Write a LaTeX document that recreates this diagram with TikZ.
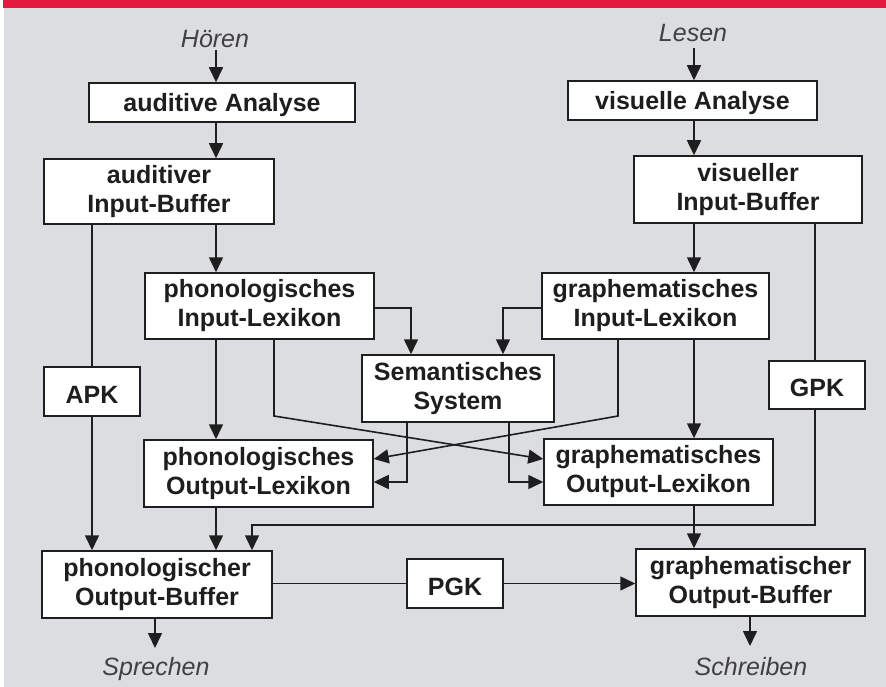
\documentclass[tikz,border=0pt]{standalone}
\usepackage{fontspec}
\setmainfont{Liberation Sans}
\usetikzlibrary{arrows.meta}
\definecolor{bg}{HTML}{DCDDE0}
\definecolor{redbar}{HTML}{E31B3D}
\definecolor{ink}{HTML}{1E1E1E}
\begin{document}
\begin{tikzpicture}[x=1pt,y=-1pt,
  box/.style={draw=ink, line width=1.5pt, fill=white, inner sep=0pt, align=center,
    font=\fontsize{25}{29}\selectfont\bfseries, text=ink,
    execute at begin node={\rule{0pt}{24pt}}},
  lbl/.style={inner sep=0pt, font=\fontsize{25}{29}\selectfont\itshape, text=ink!85},
  conn/.style={draw=ink, line width=1.6pt},
  arr/.style={conn, -{Triangle[length=15pt,width=14pt]}}]
\useasboundingbox (0,0) rectangle (886,687);
\fill[white] (0,0) rectangle (886,687);
\fill[bg] (4,8) rectangle (886,687);
\fill[redbar] (3,0) rectangle (886,8);

% inputs / outputs
\node[lbl] (hoeren) at (215,39) {Hören};
\node[lbl] (lesen) at (693,33) {Lesen};
\node[lbl] (sprechen) at (156,669) {Sprechen};
\node[lbl] (schreiben) at (751,667) {Schreiben};

% boxes
\node[box, minimum width=266pt, minimum height=39pt] (audA) at (222,102.5) {auditive Analyse};
\node[box, minimum width=230pt, minimum height=65pt] (audIB) at (159,191.5) {auditiver\\Input-Buffer};
\node[box, minimum width=249pt, minimum height=39pt] (visA) at (692.5,100.5) {visuelle Analyse};
\node[box, minimum width=228pt, minimum height=67pt] (visIB) at (748,189.5) {visueller\\Input-Buffer};
\node[box, minimum width=229pt, minimum height=66pt] (phIL) at (259.5,306) {phonologisches\\Input-Lexikon};
\node[box, minimum width=227pt, minimum height=66pt] (grIL) at (655.5,306) {graphematisches\\Input-Lexikon};
\node[box, minimum width=192pt, minimum height=67pt] (semS) at (458,388.5) {Semantisches\\System};
\node[box, minimum width=96pt, minimum height=49pt] (apk) at (92,391.5) {APK};
\node[box, minimum width=96pt, minimum height=48pt] (gpk) at (817,385) {GPK};
\node[box, minimum width=229pt, minimum height=67pt] (phOL) at (258.5,473.5) {phonologisches\\Output-Lexikon};
\node[box, minimum width=229pt, minimum height=66pt] (grOL) at (658.5,472) {graphematisches\\Output-Lexikon};
\node[box, minimum width=230pt, minimum height=67pt] (phOB) at (157,584.5) {phonologischer\\Output-Buffer};
\node[box, minimum width=96pt, minimum height=49pt] (pgk) at (455,583.5) {PGK};
\node[box, minimum width=229pt, minimum height=67pt] (grOB) at (750.5,582.5) {graphematischer\\Output-Buffer};

% helper coordinates
\coordinate (xa) at (216,0);
\coordinate (xp) at (92,0);
\coordinate (xs1) at (411,0);
\coordinate (xs2) at (503,0);
\coordinate (xd1) at (274,0);
\coordinate (xd2) at (618,0);
\coordinate (xo1) at (407,0);
\coordinate (xo2) at (509,0);
\coordinate (xv) at (694,0);
\coordinate (xg) at (815,0);
\coordinate (xq) at (252,0);
\coordinate (xsp) at (155,0);
\coordinate (xsc) at (750,0);
\coordinate (ys) at (0,308);
\coordinate (yd) at (0,416);
\coordinate (ydt) at (0,459);
\coordinate (yo) at (0,482);
\coordinate (yg) at (0,525);
\coordinate (hs) at (216,50);
\coordinate (ls) at (694,48);
\coordinate (spe) at (155,648);
\coordinate (sce) at (750,646);

% auditory column
\draw[arr] (hs) -- (hs |- audA.north);
\draw[arr] (audA.south -| xa) -- (audIB.north -| xa);
\draw[arr] (audIB.south -| xa) -- (phIL.north -| xa);
\draw[conn] (audIB.south -| xp) -- (apk.north);
\draw[arr] (apk.south) -- (phOB.north -| xp);
\draw[arr] (phIL.south -| xa) -- (phOL.north -| xa);
\draw[arr] (phOL.south -| xa) -- (phOB.north -| xa);

% visual column
\draw[arr] (ls) -- (ls |- visA.north);
\draw[arr] (visA.south -| xv) -- (visIB.north -| xv);
\draw[arr] (visIB.south -| xv) -- (grIL.north -| xv);
\draw[conn] (visIB.south -| xg) -- (gpk.north -| xg);
\draw[arr] (gpk.south -| xg) -- (xg |- yg) -- (xq |- yg) -- (phOB.north -| xq);
\draw[arr] (grIL.south -| xv) -- (grOL.north -| xv);
\draw[arr] (grOL.south -| xv) -- (grOB.north -| xv);

% semantic system
\draw[arr] (phIL.east |- ys) -- (xs1 |- ys) -- (semS.north -| xs1);
\draw[arr] (grIL.west |- ys) -- (xs2 |- ys) -- (semS.north -| xs2);
\draw[arr] (semS.south -| xo1) -- (xo1 |- yo) -- (phOL.east |- yo);
\draw[arr] (semS.south -| xo2) -- (xo2 |- yo) -- (grOL.west |- yo);

% crossing lexical routes
\draw[arr] (phIL.south -| xd1) -- (xd1 |- yd) -- (grOL.west |- ydt);
\draw[arr] (grIL.south -| xd2) -- (xd2 |- yd) -- (phOL.east |- ydt);

% PGK
\draw[conn] (phOB.east |- pgk) -- (pgk.west);
\draw[arr] (pgk.east) -- (grOB.west |- pgk);

% outputs
\draw[arr] (phOB.south -| xsp) -- (spe);
\draw[arr] (grOB.south -| xsc) -- (sce);
\end{tikzpicture}
\end{document}
